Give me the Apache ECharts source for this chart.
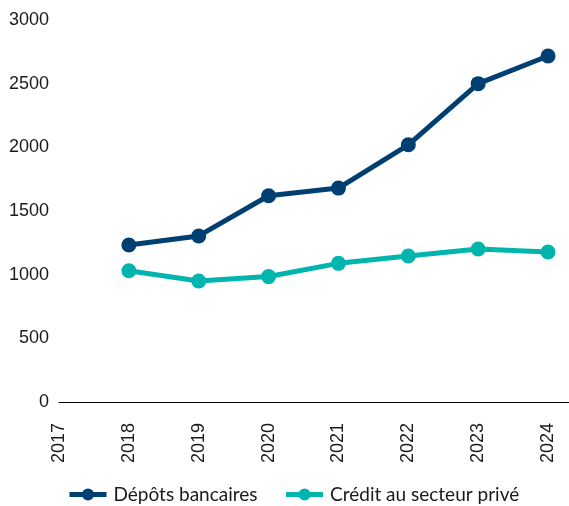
<!DOCTYPE html>
<html>
<head>
<meta charset="utf-8">
<script src="https://cdn.jsdelivr.net/npm/echarts@6/dist/echarts.min.js"></script>
<style>
  html, body { margin: 0; padding: 0; background: #fff; }
  #chart { width: 569px; height: 506px; }
</style>
</head>
<body>
<div id="chart"></div>
<script>
// années (axe x)
var years = [2017, 2018, 2019, 2020, 2021, 2022, 2023, 2024];
var serieYears = [2018, 2019, 2020, 2021, 2022, 2023, 2024];
// séries
var depots = [1233, 1304, 1620, 1680, 2020, 2500, 2717];
var credit = [1031, 950, 985, 1089, 1147, 1202, 1178];
var seriesNames = ['Dépôts bancaires', 'Crédit au secteur privé'];

function pairs(xs, ys) {
    var out = [];
    for (var i = 0; i < xs.length; i++) out.push([xs[i], ys[i]]);
    return out;
}

var chart = echarts.init(document.getElementById('chart'));
var option = {
    animation: false,
    grid: { left: 59, right: 0, top: 20, bottom: 104 },
    legend: {
        top: 485,
        left: 67,
        padding: 0,
        itemWidth: 37,
        itemHeight: 15,
        itemGap: 26,
        lineStyle: { width: 5 },
        textStyle: { fontSize: 19, color: '#1a1a1a', fontFamily: 'Lato', padding: [0, 0, 0, 2] },
        data: seriesNames
    },
    xAxis: {
        type: 'value',
        min: years[0],
        max: 2024.3,
        interval: 1,
        splitLine: { show: false },
        axisTick: { show: false },
        axisLine: { show: true, lineStyle: { color: '#000', width: 1 } },
        axisLabel: {
            rotate: 90,
            margin: 21,
            fontSize: 18,
            fontFamily: 'Liberation Sans',
            color: '#1a1a1a',
            showMaxLabel: false,
            formatter: function (v) {
                return years.indexOf(v) >= 0 ? String(v) : '';
            }
        }
    },
    yAxis: {
        type: 'value',
        min: 0,
        max: 3000,
        interval: 500,
        splitLine: { show: false },
        axisLine: { show: false },
        axisTick: { show: false },
        axisLabel: {
            fontSize: 18,
            fontFamily: 'Liberation Sans',
            color: '#1a1a1a',
            margin: 10,
            formatter: function (v) { return String(v); }
        }
    },
    series: [
        {
            name: seriesNames[0],
            type: 'line',
            data: pairs(serieYears, depots),
            symbol: 'circle',
            symbolSize: 15,
            color: '#003f72',
            lineStyle: { width: 5 }
        },
        {
            name: seriesNames[1],
            type: 'line',
            data: pairs(serieYears, credit),
            symbol: 'circle',
            symbolSize: 15,
            color: '#00b5ad',
            lineStyle: { width: 5 }
        }
    ]
};
chart.setOption(option);
</script>
</body>
</html>
